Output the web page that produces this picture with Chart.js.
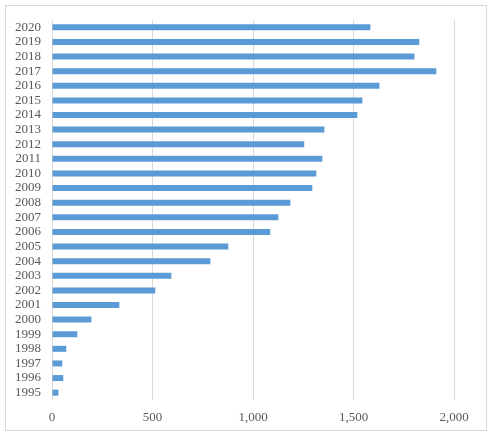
<!DOCTYPE html>
<html>
<head>
<meta charset="utf-8">
<script src="https://cdn.jsdelivr.net/npm/chart.js@4/dist/chart.umd.min.js"></script>
<style>
html,body{margin:0;padding:0;background:#fff;}
#wrap{position:absolute;left:0;top:0;width:495px;height:439px;}
</style>
</head>
<body>
<div id="wrap"><canvas id="c" width="495" height="439"></canvas></div>
<script>
const years = ['2020','2019','2018','2017','2016','2015','2014','2013','2012','2011','2010','2009','2008','2007','2006','2005','2004','2003','2002','2001','2000','1999','1998','1997','1996','1995'];
const values = [1584,1827,1803,1912,1629,1544,1519,1355,1255,1345,1315,1295,1186,1126,1086,877,788,594,514,335,196,126,71,51,56,32];
const xTicks = [0,500,1000,1500,2000];

const borderPlugin = {
  id:'border',
  beforeDraw(chart){
    const ctx = chart.ctx;
    ctx.save();
    ctx.fillStyle='#fff';
    ctx.fillRect(0,0,chart.width,chart.height);
    ctx.strokeStyle='#d9d9d9';
    ctx.lineWidth=1;
    ctx.strokeRect(5.5,5.5,481,425);
    ctx.restore();
  }
};

new Chart(document.getElementById('c'),{
  type:'bar',
  data:{labels:years,datasets:[{data:values,backgroundColor:'#5b9bd5',borderWidth:0,barPercentage:0.41,categoryPercentage:1}]},
  options:{
    indexAxis:'y',
    responsive:false,
    animation:false,
    devicePixelRatio:1,
    layout:{padding:{left:0,right:41,top:20,bottom:0}},
    plugins:{legend:{display:false},tooltip:{enabled:false}},
    scales:{
      x:{
        min:0,max:2000,
        afterBuildTicks(s){s.ticks = xTicks.map(v=>({value:v}));},
        grid:{color:'#d9d9d9',drawTicks:false},
        border:{display:false},
        ticks:{color:'#595959',font:{family:'Liberation Serif',size:13},padding:10,
          callback:v=>v.toLocaleString('en-US')},
        afterFit(s){s.height=39;}
      },
      y:{
        grid:{display:false,drawTicks:false},
        border:{display:false},
        ticks:{color:'#595959',font:{family:'Liberation Serif',size:13},padding:11,autoSkip:false},
        afterFit(s){s.width=52;}
      }
    }
  },
  plugins:[borderPlugin]
});
</script>
</body>
</html>
